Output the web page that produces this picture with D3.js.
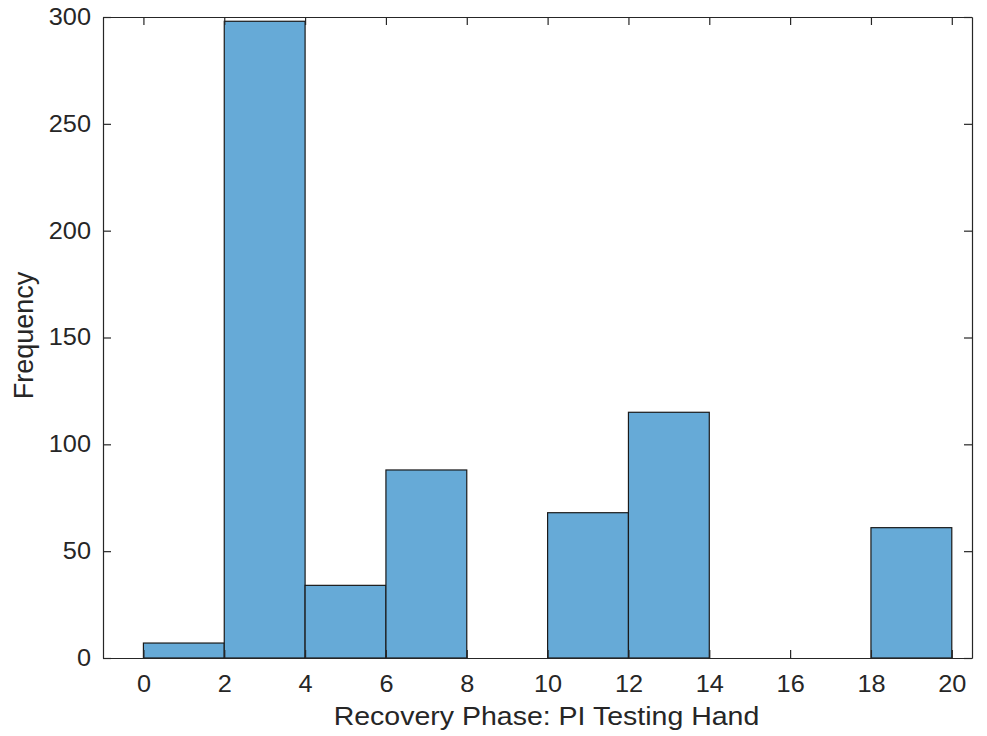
<!DOCTYPE html>
<html>
<head>
<meta charset="utf-8">
<script src="https://cdn.jsdelivr.net/npm/d3@7"></script>
<style>
  body { margin: 0; background: #fff; }
  svg { display: block; }
  text { font-family: "Liberation Sans", Arial, sans-serif; fill: #262626; }
</style>
</head>
<body>
<svg id="chart" width="987" height="736"></svg>
<script>
// Histogram bins (edges) and counts
const binEdges = [0, 2, 4, 6, 8, 10, 12, 14, 16, 18, 20];
const counts = [7, 298, 34, 88, 0, 68, 115, 0, 0, 61];
const xTicks = [0, 2, 4, 6, 8, 10, 12, 14, 16, 18, 20];
const yTicks = [0, 50, 100, 150, 200, 250, 300];
const xLabel = "Recovery Phase: PI Testing Hand";
const yLabel = "Frequency";

(function () {
  const svg = d3.select("#chart");
  const m = { left: 103, right: 15, top: 17, bottom: 78 };
  const W = 987, H = 736;
  const x = d3.scaleLinear().domain([-1, 20.5]).range([m.left, W - m.right]);
  const y = d3.scaleLinear().domain([0, 300]).range([H - m.bottom, m.top]);
  const axisColor = "#262626";

  // widen horizontal text slightly (wide sans rendering)
  function widen(sel, k) {
    sel.each(function () {
      const len = this.getComputedTextLength();
      d3.select(this).attr("textLength", len * k).attr("lengthAdjust", "spacingAndGlyphs");
    });
  }

  const bins = counts.map((c, i) => ({ x0: binEdges[i], x1: binEdges[i + 1], n: c }));

  svg.append("g")
    .selectAll("rect")
    .data(bins.filter(d => d.n > 0))
    .join("rect")
    .attr("x", d => x(d.x0))
    .attr("y", d => y(d.n))
    .attr("width", d => x(d.x1) - x(d.x0))
    .attr("height", d => y(0) - y(d.n))
    .attr("fill", "#66aad7")
    .attr("stroke", "#1a1a1a")
    .attr("stroke-width", 1.2);

  // Axes with inward ticks on all four sides
  const tickLen = 8;
  const fontSize = 23;

  const gBottom = svg.append("g").attr("transform", `translate(0,${y(0)})`)
    .call(d3.axisBottom(x).tickValues(xTicks).tickSizeInner(-tickLen).tickSizeOuter(0).tickPadding(18));
  const gTop = svg.append("g").attr("transform", `translate(0,${y(300)})`)
    .call(d3.axisTop(x).tickValues(xTicks).tickSizeInner(-tickLen).tickSizeOuter(0).tickFormat(""));
  const gLeft = svg.append("g").attr("transform", `translate(${x(-1)},0)`)
    .call(d3.axisLeft(y).tickValues(yTicks).tickSizeInner(-tickLen).tickSizeOuter(0).tickPadding(12));
  const gRight = svg.append("g").attr("transform", `translate(${x(20.5)},0)`)
    .call(d3.axisRight(y).tickValues(yTicks).tickSizeInner(-tickLen).tickSizeOuter(0).tickFormat(""));

  [gBottom, gTop, gLeft, gRight].forEach(g => {
    g.selectAll(".domain").attr("stroke", axisColor).attr("stroke-width", 1.2);
    g.selectAll(".tick line").attr("stroke", axisColor).attr("stroke-width", 1.2);
    g.selectAll(".tick text").attr("font-size", fontSize).attr("fill", axisColor)
      .attr("font-family", "'Liberation Sans', Arial, sans-serif");
  });
  widen(gBottom.selectAll(".tick text"), 1.1);
  widen(gLeft.selectAll(".tick text"), 1.1);

  const xl = svg.append("text")
    .attr("x", (x(-1) + x(20.5)) / 2 + 9)
    .attr("y", 725)
    .attr("text-anchor", "middle")
    .attr("font-size", 25)
    .text(xLabel);
  widen(xl, 1.14);

  svg.append("text")
    .attr("transform", `translate(33,${(y(0) + y(300)) / 2 - 2}) rotate(-90)`)
    .attr("text-anchor", "middle")
    .attr("font-size", 27)
    .text(yLabel);
})();
</script>
</body>
</html>
